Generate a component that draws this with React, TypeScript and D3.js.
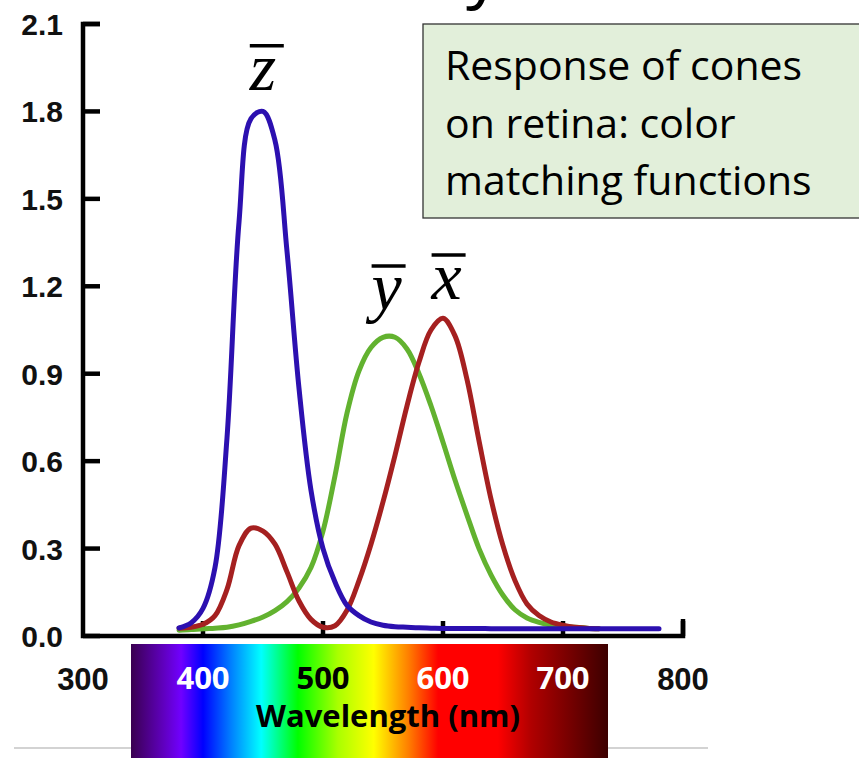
import React from "react";
import * as d3 from "d3";

// ---------- data ----------
const zWl = [380, 390, 400, 410, 420, 430, 440, 450, 460, 470, 480, 490, 500, 510, 520, 530, 540, 550, 560, 570, 580, 590, 600, 610, 620, 630, 640, 650, 660, 670, 680, 690, 700, 710, 720, 730, 740, 750, 760, 770, 780];
const zVal = [0.028, 0.045, 0.095, 0.235, 0.68, 1.42, 1.775, 1.8, 1.7, 1.32, 0.85, 0.5, 0.3, 0.185, 0.105, 0.07, 0.048, 0.037, 0.032, 0.03, 0.028, 0.027, 0.026, 0.026, 0.026, 0.026, 0.025, 0.025, 0.025, 0.025, 0.025, 0.025, 0.025, 0.025, 0.025, 0.025, 0.025, 0.025, 0.025, 0.025, 0.025];

const xWl = [380, 390, 400, 410, 420, 430, 440, 450, 460, 470, 480, 490, 500, 510, 520, 530, 540, 550, 560, 570, 580, 590, 600, 610, 620, 630, 640, 650, 660, 670, 680, 690, 700, 710, 720, 730];
const xVal = [0.027, 0.03, 0.04, 0.07, 0.16, 0.31, 0.37, 0.36, 0.315, 0.22, 0.12, 0.057, 0.03, 0.035, 0.088, 0.19, 0.315, 0.46, 0.62, 0.79, 0.94, 1.05, 1.09, 1.03, 0.88, 0.67, 0.47, 0.31, 0.19, 0.11, 0.07, 0.048, 0.037, 0.03, 0.027, 0.025];

const yWl = [380, 390, 400, 410, 420, 430, 440, 450, 460, 470, 480, 490, 500, 510, 520, 530, 540, 550, 560, 570, 580, 590, 600, 610, 620, 630, 640, 650, 660, 670, 680, 690, 700, 710, 720, 730];
const yVal = [0.02, 0.022, 0.025, 0.027, 0.03, 0.038, 0.05, 0.065, 0.087, 0.118, 0.165, 0.235, 0.36, 0.55, 0.765, 0.91, 0.99, 1.025, 1.025, 0.985, 0.9, 0.79, 0.665, 0.535, 0.415, 0.3, 0.21, 0.14, 0.09, 0.062, 0.047, 0.038, 0.033, 0.03, 0.027, 0.025];

const yTicks = [0, 0.3, 0.6, 0.9, 1.2, 1.5, 1.8, 2.1];
const xTicksOuter = [300, 800];
const xTicksInner = [400, 500, 600, 700];
const xTickMarks = [400, 500, 600, 700, 800];
const innerLabelColors = ["#ffffff", "#000000", "#ffffff", "#ffffff"];
const legendLines = ["Response of cones", "on retina: color", "matching functions"];
const axisTitle = "Wavelength (nm)";

// curve annotations in data units (wavelength, value of baseline)
const curveLabelNames = ["z", "y", "x"];
const curveLabelWl = [439, 540.5, 590.5];
const curveLabelVal = [1.874, 1.119, 1.156];

// spectrum gradient
const spectrumOffsets = [0, 0.069, 0.105, 0.151, 0.21, 0.273, 0.35, 0.434, 0.509, 0.581, 0.644, 0.769, 0.839, 1];
const spectrumColors = ["#3a0050", "#6000c0", "#7000ff", "#0000ff", "#0080ff", "#00ffff", "#00ff00", "#aaff00", "#ffff00", "#ff8000", "#ff0000", "#ff0000", "#b00000", "#3c0000"];

const W = 859;
const H = 758;

export default function App() {
  const x = d3.scaleLinear().domain([300, 800]).range([83, 683]);
  const y = d3.scaleLinear().domain([0, 2.1]).range([636, 24]);

  const line = d3
    .line<[number, number]>()
    .x((d) => x(d[0]))
    .y((d) => y(d[1]))
    .curve(d3.curveCatmullRom.alpha(0.5));

  const series = [
    { wl: yWl, v: yVal, color: "#62b22f" },
    { wl: xWl, v: xVal, color: "#a52020" },
    { wl: zWl, v: zVal, color: "#2c10b0" },
  ];

  const barX0 = x(340);
  const barX1 = x(737.5);
  const barY0 = 644;

  const fmt = d3.format(".1f");

  return (
    <svg
      width={W}
      height={H}
      viewBox={`0 0 ${W} ${H}`}
      style={{ position: "absolute", left: 0, top: 0, background: "#ffffff" }}
    >
      <defs>
        <linearGradient id="spec" x1="0" x2="1" y1="0" y2="0">
          {spectrumOffsets.map((o, i) => (
            <stop key={i} offset={o} stopColor={spectrumColors[i]} />
          ))}
        </linearGradient>
      </defs>
      <rect x={0} y={0} width={W} height={H} fill="#ffffff" />

      {/* partial title glyph at top (cut off in the reference too) */}
      <text x={466} y={-6} fontFamily="Open Sans" fontSize={70} fill="#000">
        y
      </text>

      {/* gray rule at bottom */}
      <line x1={14} x2={708} y1={748} y2={748} stroke="#c4c4c4" strokeWidth={1.5} />

      {/* axes */}
      <path
        d={`M${x(300) + 17},${y(2.1)} H${x(300)} V${y(0)} H${x(800)} V${y(0) - 17}`}
        fill="none"
        stroke="#000"
        strokeWidth={4.5}
        strokeLinejoin="miter"
      />
      {yTicks.map((t) => (
        <g key={t}>
          <line x1={x(300)} x2={x(300) + 17} y1={y(t)} y2={y(t)} stroke="#000" strokeWidth={4.5} />
          <text
            x={63}
            y={y(t) + 11}
            textAnchor="end"
            fontFamily="Liberation Sans, Arial, sans-serif"
            fontWeight="bold"
            fontSize={30}
            fill="#111"
          >
            {fmt(t)}
          </text>
        </g>
      ))}
      {xTickMarks.map((t) => (
        <line key={t} x1={x(t)} x2={x(t)} y1={y(0)} y2={y(0) - 15} stroke="#000" strokeWidth={4.5} />
      ))}

      {/* curves */}
      {series.map((s, i) => (
        <path
          key={i}
          d={line(s.wl.map((w, j) => [w, s.v[j]]) as [number, number][]) || ""}
          fill="none"
          stroke={s.color}
          strokeWidth={5}
          strokeLinecap="round"
        />
      ))}

      {/* curve labels with overbars */}
      {curveLabelNames.map((n, i) => {
        const lx = x(curveLabelWl[i]);
        const ly = y(curveLabelVal[i]);
        return (
          <g key={n}>
            <text
              x={lx}
              y={ly}
              fontFamily="Liberation Serif, Times New Roman, serif"
              fontStyle="italic"
              fontSize={68}
              fill="#000"
            >
              {n}
            </text>
            <line x1={lx} x2={lx + 34} y1={ly - 44} y2={ly - 44} stroke="#000" strokeWidth={3.5} />
          </g>
        );
      })}

      {/* outer x tick labels */}
      {xTicksOuter.map((t) => (
        <text
          key={t}
          x={x(t)}
          y={690}
          textAnchor="middle"
          fontFamily="Liberation Sans, Arial, sans-serif"
          fontWeight="bold"
          fontSize={31}
          fill="#111"
        >
          {t}
        </text>
      ))}

      {/* spectrum bar */}
      <rect x={barX0} y={barY0} width={barX1 - barX0} height={H - barY0} fill="url(#spec)" />
      {xTicksInner.map((t, i) => (
        <text
          key={t}
          x={x(t)}
          y={689}
          textAnchor="middle"
          fontFamily="Open Sans, sans-serif"
          fontWeight="bold"
          fontSize={31}
          fill={innerLabelColors[i]}
        >
          {t}
        </text>
      ))}
      <text
        x={388}
        y={727}
        textAnchor="middle"
        fontFamily="Open Sans, sans-serif"
        fontWeight="bold"
        fontSize={31}
        fill="#000"
      >
        {axisTitle}
      </text>

      {/* legend box */}
      <rect x={423} y={24} width={460} height={194} fill="#e2efda" stroke="#333" strokeWidth={1.3} />
      {legendLines.map((l, i) => (
        <text
          key={i}
          x={445}
          y={80 + i * 57.5}
          fontFamily="Open Sans, sans-serif"
          fontSize={41}
          fill="#000"
        >
          {l}
        </text>
      ))}
    </svg>
  );
}
